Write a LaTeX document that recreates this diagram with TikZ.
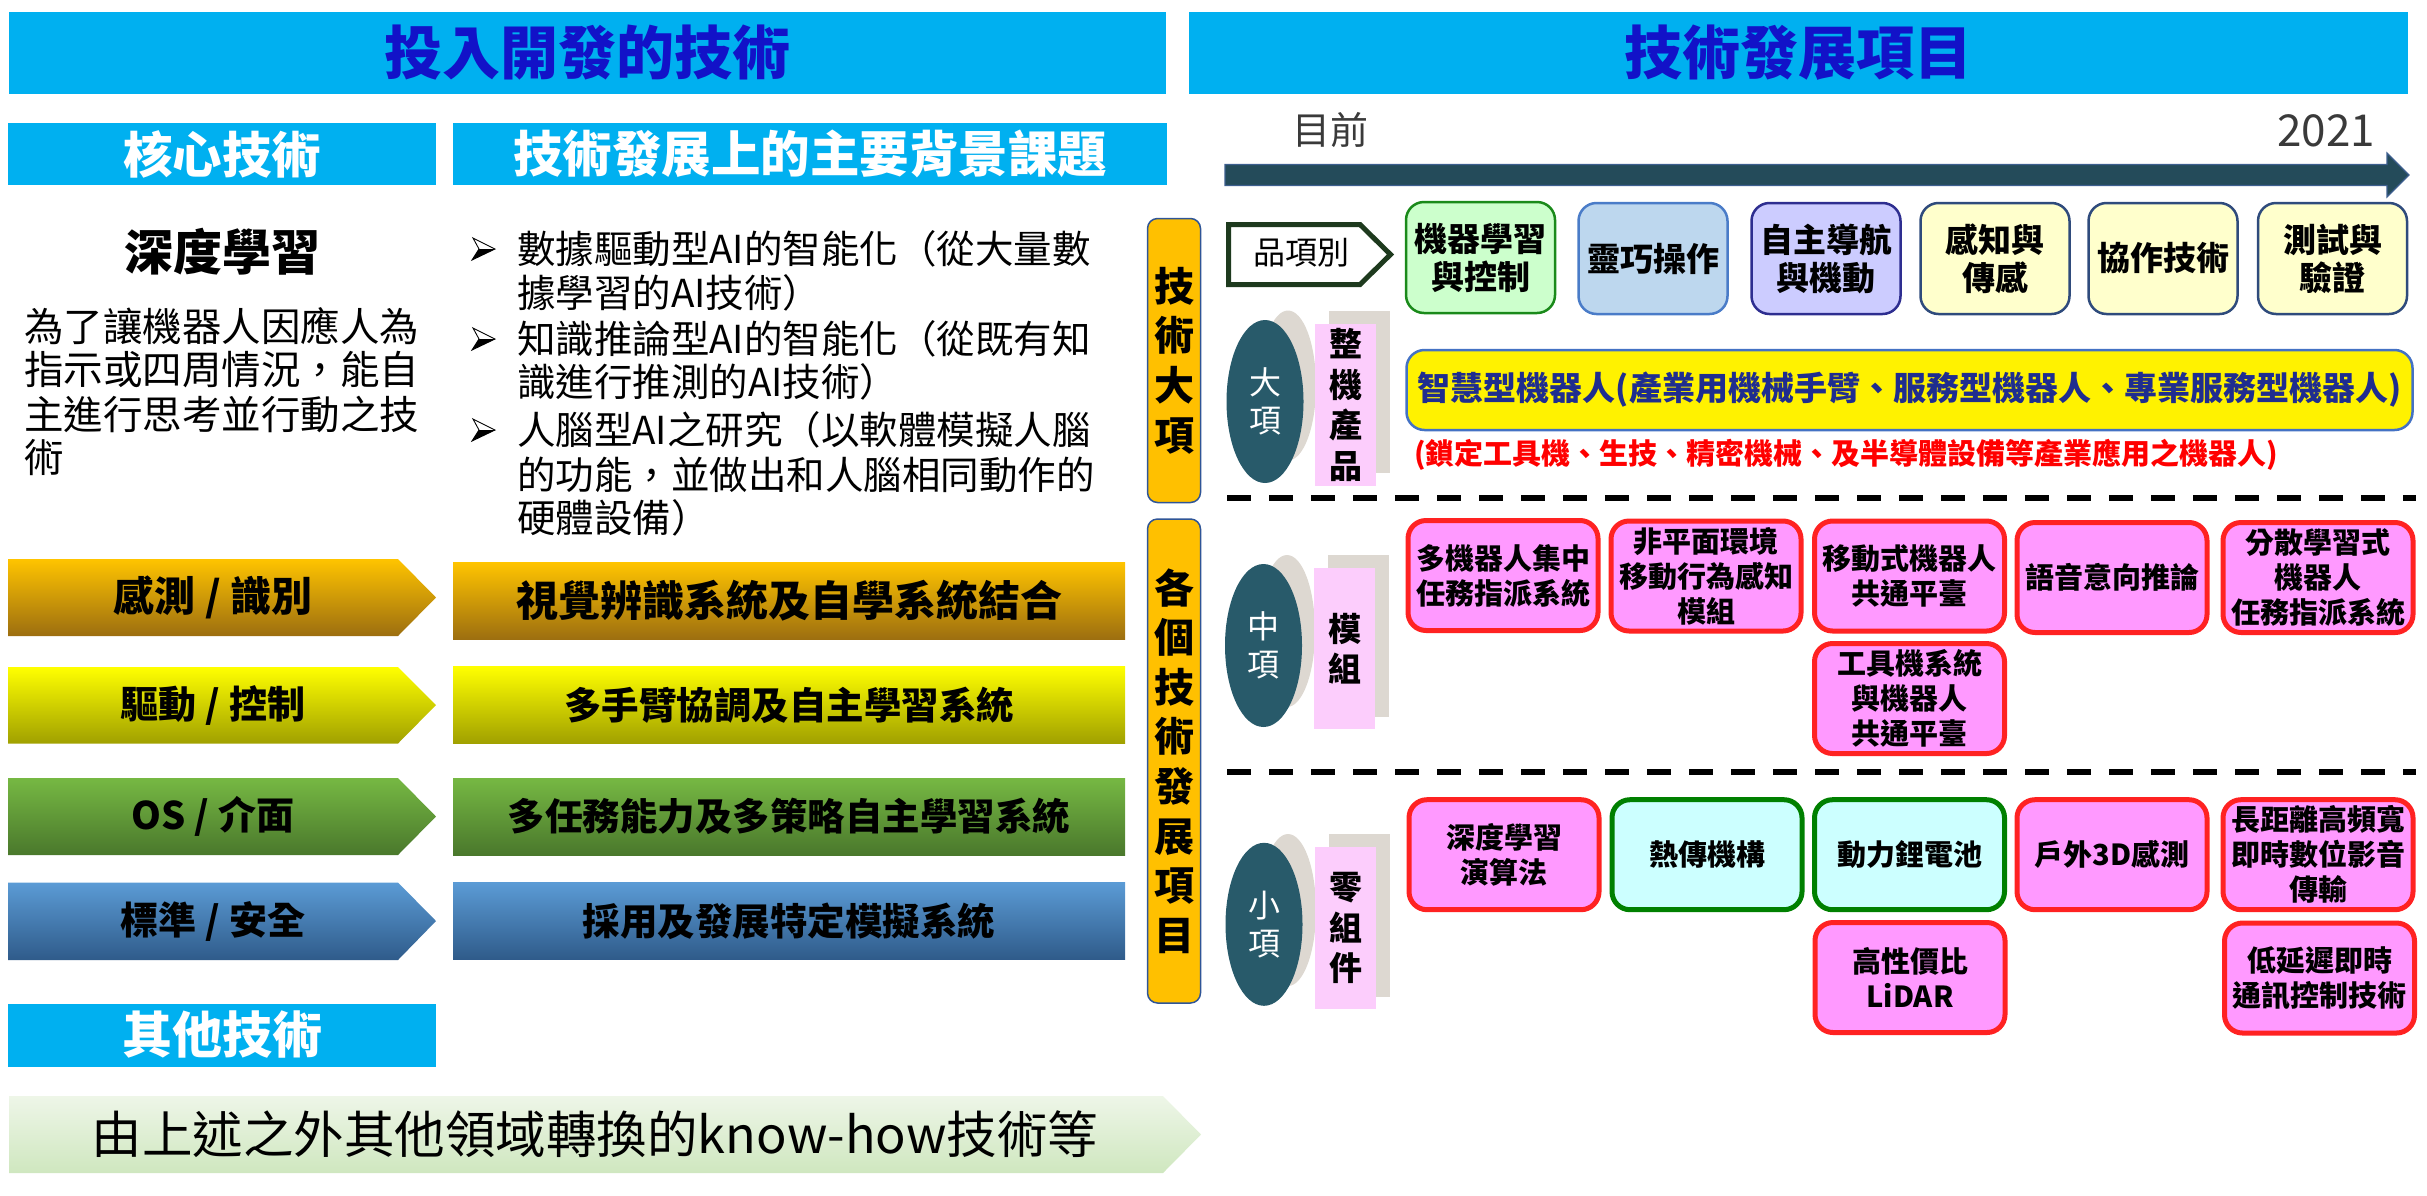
\documentclass[tikz,border=0pt]{standalone}
\usepackage{fontspec}
\setmainfont{Noto Sans CJK TC}
\usetikzlibrary{shapes.geometric}
\newcommand\myfs[2]{\fontsize{#1}{#2}\selectfont}
\definecolor{cyanB}{HTML}{00B0F0}
\definecolor{titleB}{HTML}{1212C8}
\definecolor{orangeV}{HTML}{FFC000}
\definecolor{vboxE}{HTML}{2F5597}
\definecolor{tealE}{HTML}{285A6A}
\definecolor{grayE}{HTML}{DDD8D1}
\definecolor{pinkL}{HTML}{FCCDFC}
\definecolor{pinkR}{HTML}{FF99FF}
\definecolor{redB}{HTML}{FF2222}
\definecolor{greenB}{HTML}{008000}
\definecolor{cyanL}{HTML}{CCFFFF}
\definecolor{arrowC}{HTML}{244B5A}
\definecolor{arrowE}{HTML}{3D5F8F}
\definecolor{darkG}{HTML}{1E3A1E}
\definecolor{fillA}{HTML}{CCFFCC}
\definecolor{edgeA}{HTML}{1A8A1A}
\definecolor{fillB}{HTML}{BDD7EE}
\definecolor{edgeB}{HTML}{4A7CC8}
\definecolor{fillC}{HTML}{CCCCFF}
\definecolor{edgeC}{HTML}{2E2E90}
\definecolor{fillD}{HTML}{FFFFCC}
\definecolor{edgeD}{HTML}{2F4B7C}
\definecolor{navyT}{HTML}{1F2D8F}
\definecolor{grayT}{HTML}{3A3A3A}
\definecolor{yboxE}{HTML}{4472C4}
\definecolor{oT}{HTML}{FFC400}\definecolor{oM}{HTML}{EAAA00}\definecolor{oB}{HTML}{9C6E10}
\definecolor{yT}{HTML}{FFFF00}\definecolor{yM}{HTML}{EEEE00}\definecolor{yB}{HTML}{A0A000}
\definecolor{gT}{HTML}{76B843}\definecolor{gM}{HTML}{66A03A}\definecolor{gB}{HTML}{4A782C}
\definecolor{bT}{HTML}{5B9BD5}\definecolor{bM}{HTML}{4A86C0}\definecolor{bB}{HTML}{2F5B8A}
\definecolor{lgT}{HTML}{EEF6E8}\definecolor{lgB}{HTML}{CFE7BF}
\tikzset{
  banner/.style={fill=cyanB, text=titleB, font=\bfseries\myfs{58}{62}, minimum height=82pt},
  subbanner/.style={fill=cyanB, text=white, font=\bfseries\myfs{49.5}{53}, minimum height=62pt},
  para/.style={anchor=west, font=\myfs{39.5}{44}},
  bul/.style={anchor=west, font=\myfs{38.5}{44}},
  rowlab/.style={font=\bfseries\myfs{38}{42}},
  rowbox/.style={font=\bfseries\myfs{37.5}{42}, minimum width=672pt, minimum height=77pt},
  vbox/.style={rounded corners=10pt, fill=orangeV, draw=vboxE, line width=1.5pt, align=center, minimum width=53pt, font=\bfseries\myfs{40}{49.6}},
  lvl/.style={ellipse, fill=tealE, text=white, align=center, minimum width=77pt, minimum height=163pt, font=\myfs{32}{38}},
  pinkrect/.style={fill=pinkL, align=center, minimum width=61pt, minimum height=161.5pt, font=\bfseries\myfs{33}{40.5}},
  topbox/.style={rounded corners=18pt, line width=2.5pt, minimum width=149pt, minimum height=111pt, align=center, font=\bfseries\myfs{33}{38}},
  redbox/.style={rounded corners=18pt, draw=redB, fill=pinkR, line width=5pt, minimum width=190pt, minimum height=110pt, align=center, font=\bfseries\myfs{29}{35}},
  grnbox/.style={redbox, draw=greenB, fill=cyanL},
  dashline/.style={line width=6pt, dash pattern=on 24pt off 18pt},
}
\newcommand\bulletmark[1]{%
  \draw[line width=0.9pt] (473,#1-11) -- (495,#1) -- (472,#1+11) -- (479,#1) -- cycle;
  \fill (479,#1) -- (495,#1) -- (472,#1+11) -- cycle;}
\begin{document}
\begin{tikzpicture}[x=1pt, y=-1pt, every node/.style={inner sep=0pt, outer sep=0pt}]
\useasboundingbox (0,0) rectangle (2427,1195);
% ---------- left half ----------
\node[banner, minimum width=1157pt] (t1) at (587.5,53) {投入開發的技術};
\node[subbanner, minimum width=428pt] (core) at (222,154) {核心技術};
\node[subbanner, minimum width=714pt] (bg) at (810,154) {技術發展上的主要背景課題};
\node[font=\bfseries\myfs{49}{52}] (dl) at (222,252) {深度學習};
\node[para] (p1) at (24,326) {為了讓機器人因應人為};
\node[para] (p2) at (24,370) {指示或四周情況，能自};
\node[para] (p3) at (24,414) {主進行思考並行動之技};
\node[para] (p4) at (24,457) {術};
\bulletmark{249}\bulletmark{339}\bulletmark{430}
\node[bul] (b1) at (517,249) {數據驅動型AI的智能化（從大量數};
\node[bul] (b2) at (517,293) {據學習的AI技術）};
\node[bul] (b3) at (517,339) {知識推論型AI的智能化（從既有知};
\node[bul] (b4) at (517,382) {識進行推測的AI技術）};
\node[bul] (b5) at (517,430) {人腦型AI之研究（以軟體模擬人腦};
\node[bul] (b6) at (517,475) {的功能，並做出和人腦相同動作的};
\node[bul] (b7) at (517,518) {硬體設備）};
% rows
\shade[top color=oT, middle color=oM, bottom color=oB] (8,559) -- (398,559) -- (436,597.5) -- (398,636) -- (8,636) -- cycle;
\node[rowlab, font=\bfseries\myfs{41}{44}] (r1) at (213,597.5) {感測 / 識別};
\node[rowbox, top color=oT, middle color=oM, bottom color=oB, font=\bfseries\myfs{42}{46}] (rb1) at (789,601) {視覺辨識系統及自學系統結合};
\shade[top color=yT, middle color=yM, bottom color=yB] (8,667) -- (398,667) -- (436,705) -- (398,743.5) -- (8,743.5) -- cycle;
\node[rowlab] (r2) at (213,705) {驅動 / 控制};
\node[rowbox, top color=yT, middle color=yM, bottom color=yB] (rb2) at (789,705) {多手臂協調及自主學習系統};
\shade[top color=gT, middle color=gM, bottom color=gB] (8,778) -- (398,778) -- (436,816.5) -- (398,855) -- (8,855) -- cycle;
\node[rowlab] (r3) at (213,816.5) {OS / 介面};
\node[rowbox, top color=gT, middle color=gM, bottom color=gB] (rb3) at (789,816.5) {多任務能力及多策略自主學習系統};
\shade[top color=bT, middle color=bM, bottom color=bB] (8,882.5) -- (398,882.5) -- (436,921) -- (398,960) -- (8,960) -- cycle;
\node[rowlab] (r4) at (213,921) {標準 / 安全};
\node[rowbox, top color=bT, middle color=bM, bottom color=bB] (rb4) at (789,921) {採用及發展特定模擬系統};
\node[subbanner, minimum width=428pt, minimum height=63pt, font=\bfseries\myfs{50}{54}] (other) at (222,1035) {其他技術};
\shade[top color=lgT, bottom color=lgB] (9,1096) -- (1163,1096) -- (1201,1134.5) -- (1163,1173) -- (9,1173) -- cycle;
\node[font=\myfs{50.5}{54}] (know) at (595,1134.5) {由上述之外其他領域轉換的know-how技術等};
% ---------- right half ----------
\node[banner, minimum width=1219pt] (t2) at (1798.5,53) {技術發展項目};
\node[font=\myfs{38}{42}, text=grayT] (now) at (1330,130) {目前};
\node[font=\myfs{44}{48}, text=grayT] (yr) at (2326,131) {2021};
\filldraw[fill=arrowC, draw=arrowE, line width=1.2pt] (1225,164.5) -- (2387,164.5) -- (2387,153) -- (2409,175) -- (2387,197) -- (2387,185.5) -- (1225,185.5) -- cycle;
\node[vbox, minimum height=284pt] (vb1) at (1174,360.5) {技\\術\\大\\項};
\node[vbox, minimum height=484pt] (vb2) at (1174,761) {各\\個\\技\\術\\發\\展\\項\\目};
% item category arrow
\draw[line width=5pt, draw=darkG, fill=white] (1228.5,224.5) -- (1360,224.5) -- (1390.5,254.5) -- (1360,284.5) -- (1228.5,284.5) -- cycle;
\node[font=\myfs{32}{36}] (pin) at (1301.5,253) {品項別};
\node[topbox, draw=edgeA, fill=fillA] (c1) at (1480.5,257.5) {機器學習\\與控制};
\node[topbox, draw=edgeB, fill=fillB] (c2) at (1653,258.5) {靈巧操作};
\node[topbox, draw=edgeC, fill=fillC] (c3) at (1826,258.5) {自主導航\\與機動};
\node[topbox, draw=edgeD, fill=fillD] (c4) at (1995,258.5) {感知與\\傳感};
\node[topbox, draw=edgeD, fill=fillD] (c5) at (2163,258.5) {協作技術};
\node[topbox, draw=edgeD, fill=fillD] (c6) at (2332.5,258.5) {測試與\\驗證};
% level 1
\fill[grayE] (1288,385.5) ellipse [x radius=28, y radius=75];
\node[lvl] (e1) at (1265,401.5) {大\\項};
\fill[grayE] (1329,311) rectangle (1390,472.7);
\node[pinkrect] (k1) at (1345.5,405) {整\\機\\產\\品};
\node[rounded corners=18pt, draw=yboxE, fill=yellow, line width=2.5pt, minimum width=1006pt, minimum height=80pt, text=navyT, font=\bfseries\myfs{33}{38}] (ai) at (1909.5,390) {智慧型機器人(產業用機械手臂、服務型機器人、專業服務型機器人)};
\node[anchor=west, text=red, font=\bfseries\myfs{29}{33}] (note) at (1414,455) {(鎖定工具機、生技、精密機械、及半導體設備等產業應用之機器人)};
\draw[dashline] (1227,498) -- (2416,498);
% level 2
\fill[grayE] (1287,631) ellipse [x radius=28, y radius=76];
\node[lvl] (e2) at (1263.5,645.5) {中\\項};
\fill[grayE] (1328,555) rectangle (1389,717);
\node[pinkrect] (k2) at (1344.5,648.5) {模\\組};
\node[redbox] (m1) at (1503,575.5) {多機器人集中\\任務指派系統};
\node[redbox] (m2) at (1706,576) {非平面環境\\移動行為感知\\模組};
\node[redbox] (m3) at (1909.5,576) {移動式機器人\\共通平臺};
\node[redbox] (m4) at (2112,577.5) {語音意向推論};
\node[redbox] (m5) at (2318,577.5) {分散學習式\\機器人\\任務指派系統};
\node[redbox] (m6) at (1909.5,698.5) {工具機系統\\與機器人\\共通平臺};
\draw[dashline] (1227,772) -- (2416,772);
% level 3
\fill[grayE] (1288,910) ellipse [x radius=28, y radius=76];
\node[lvl] (e3) at (1264,924.3) {小\\項};
\fill[grayE] (1329,834) rectangle (1390,996.7);
\node[pinkrect] (k3) at (1345.5,928) {零\\組\\件};
\node[redbox] (s1) at (1504,854.7) {深度學習\\演算法};
\node[grnbox] (s2) at (1707,854.7) {熱傳機構};
\node[grnbox] (s3) at (1909.5,854.7) {動力鋰電池};
\node[redbox] (s4) at (2112,854.7) {戶外3D感測};
\node[redbox] (s5) at (2318,854.7) {長距離高頻寬\\即時數位影音\\傳輸};
\node[redbox] (s6) at (1910,977.5) {高性價比\\LiDAR};
\node[redbox] (s7) at (2319.5,978) {低延遲即時\\通訊控制技術};
\end{tikzpicture}
\end{document}
